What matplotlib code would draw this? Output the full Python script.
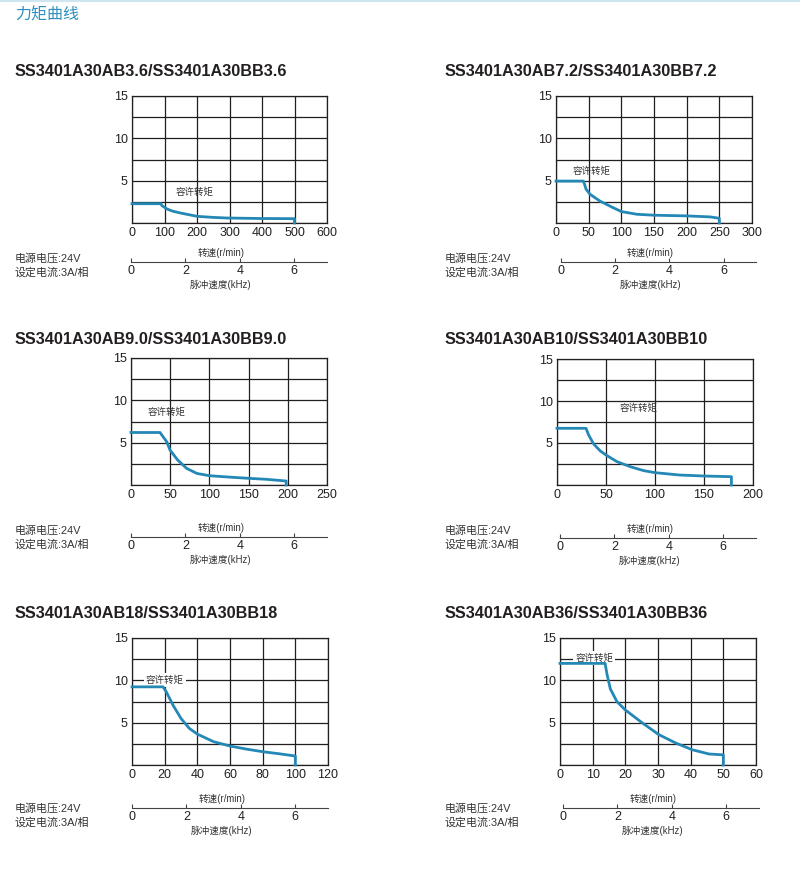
import matplotlib
matplotlib.use("Agg")
import matplotlib.pyplot as plt
import numpy as np

plt.rcParams['font.family'] = ['Liberation Sans', 'Noto Sans CJK SC', 'DejaVu Sans']

W, H = 800, 892

# curve data (speed r/min, torque)
titles = [
    "SS3401A30AB3.6/SS3401A30BB3.6",
    "SS3401A30AB7.2/SS3401A30BB7.2",
    "SS3401A30AB9.0/SS3401A30BB9.0",
    "SS3401A30AB10/SS3401A30BB10",
    "SS3401A30AB18/SS3401A30BB18",
    "SS3401A30AB36/SS3401A30BB36",
]
x_max = [600, 300, 250, 200, 120, 60]
x_step = [100, 50, 50, 50, 20, 10]

speed_1 = [0, 89, 92, 100, 108, 125, 149, 200, 250, 292, 400, 500, 500]
torque_1 = [2.28, 2.28, 2.05, 1.85, 1.65, 1.4, 1.18, 0.79, 0.66, 0.59, 0.53, 0.51, 0]

speed_2 = [0, 42, 44, 46, 52, 67, 85, 100, 124, 150, 200, 236, 250, 250]
torque_2 = [4.95, 4.95, 4.5, 4.0, 3.4, 2.6, 1.9, 1.35, 1.03, 0.92, 0.84, 0.72, 0.56, 0]

speed_3 = [0, 37, 45.6, 49.8, 59.6, 71, 83.9, 99.7, 130.7, 150, 173, 198, 198]
torque_3 = [6.2, 6.2, 5.1, 4.12, 2.94, 1.96, 1.37, 1.1, 0.9, 0.79, 0.67, 0.47, 0]

speed_4 = [0, 29.6, 32.3, 37.4, 44.2, 50, 61.2, 74.8, 88.4, 100, 124.8, 150, 178, 178]
torque_4 = [6.75, 6.75, 5.95, 4.88, 4.05, 3.57, 2.78, 2.18, 1.71, 1.47, 1.19, 1.07, 0.99, 0]

speed_5 = [0, 19, 21, 25.1, 30, 35.1, 40, 50, 60, 70, 80, 90, 100, 100]
torque_5 = [9.23, 9.23, 8.64, 7.07, 5.5, 4.32, 3.65, 2.75, 2.24, 1.88, 1.57, 1.33, 1.06, 0]

speed_6 = [0, 13.8, 14.4, 15.4, 17.4, 20, 25.1, 30.2, 35.4, 40.5, 45.6, 50, 50]
torque_6 = [12, 12, 10.7, 9.0, 7.5, 6.5, 5.0, 3.6, 2.6, 1.8, 1.3, 1.2, 0]

speeds = [speed_1, speed_2, speed_3, speed_4, speed_5, speed_6]
torques = [torque_1, torque_2, torque_3, torque_4, torque_5, torque_6]

# label "容许转矩" position (speed, torque)
label_pos = [(194, 3.66), (54, 6.1), (45.6, 8.6), (83, 9.2), (20.2, 10.05), (10.5, 12.6)]
label_box = [False, False, False, False, True, True]

khz_ticks = [0, 2, 4, 6]
khz_max = 7.2

# layout in pixels: frame (l, t, r, b), khz line (y, x0, x1), title y, info y
frames = [(132, 96, 327, 223), (556, 96, 752, 223),
          (131, 358, 327, 485), (557, 359, 753, 485),
          (132, 638, 328, 765), (560, 638, 756, 765)]
khz_lines = [(262, 131, 327), (262, 561, 756),
             (537, 131, 327), (538, 560, 756),
             (808, 132, 328), (808, 563, 759)]
title_y = [72, 72, 340, 340, 613, 613]
info_y = [258, 258, 530, 530, 808, 808]
col_x = [15, 445, 15, 445, 15, 445]

line_color = '#2488b6'
grid_color = '#231f20'
cjk = ['Noto Sans CJK SC', 'DejaVu Sans']


def rect(l, t, r, b):
    return [l / W, 1 - b / H, (r - l) / W, (b - t) / H]


fig = plt.figure(figsize=(W / 100, H / 100), dpi=100)
fig.patch.set_facecolor('white')

# header
fig.add_artist(plt.Line2D([0, 1], [1 - 1 / H, 1 - 1 / H], color='#cfe5f0', lw=1.5))
fig.text(15 / W, 1 - 15 / H, "力矩曲线", fontsize=11.5, color='#2f8fbf',
         family=cjk, va='center', ha='left')

for i in range(6):
    ax = fig.add_axes(rect(*frames[i]))
    ax.set_xlim(0, x_max[i])
    ax.set_ylim(0, 15)
    xt = np.arange(0, x_max[i] + 1, x_step[i])
    ax.set_xticks(xt)
    ax.set_xticklabels([str(int(v)) for v in xt])
    yt = [0, 2.5, 5, 7.5, 10, 12.5, 15]
    ax.set_yticks(yt)
    ax.set_yticklabels(['', '', '5', '', '10', '', '15'])
    ax.grid(True, color=grid_color, lw=0.9)
    ax.set_axisbelow(True)
    ax.tick_params(length=0, labelsize=9, colors='#231f20', pad=3)
    for s in ax.spines.values():
        s.set_color(grid_color)
        s.set_linewidth(0.9)
    ax.plot(speeds[i], torques[i], color=line_color, lw=2.0,
            solid_joinstyle='round', clip_on=False, zorder=5)
    lx, ly = label_pos[i]
    kw = {}
    if label_box[i]:
        kw['bbox'] = dict(facecolor='white', edgecolor='none', pad=1.5)
    ax.text(lx, ly, "容许转矩", fontsize=6.8, color='#333333', ha='center', va='center',
            family=cjk, zorder=4, **kw)

    # pulse frequency axis
    ky, kx0, kx1 = khz_lines[i]
    kax = fig.add_axes(rect(kx0, ky - 2, kx1, ky))
    kax.set_xlim(0, khz_max)
    kax.set_ylim(0, 1)
    for s in ['top', 'left', 'right']:
        kax.spines[s].set_visible(False)
    kax.spines['bottom'].set_color('#444444')
    kax.spines['bottom'].set_linewidth(0.8)
    kax.set_yticks([])
    kax.set_xticks(khz_ticks)
    kax.set_xticklabels([str(v) for v in khz_ticks])
    kax.tick_params(axis='x', direction='in', length=3, width=0.8, color='#444444',
                    labelsize=9, labelcolor='#231f20', pad=2.5)
    kax.patch.set_alpha(0)
    cx = (kx0 + 3.3 * (kx1 - kx0) / khz_max) / W
    fig.text(cx, 1 - (ky - 9) / H, "转速(r/min)",
             fontsize=6.9, ha='center', va='center', color='#333333')
    fig.text(cx, 1 - (ky + 23) / H, "脉冲速度(kHz)",
             fontsize=6.9, ha='center', va='center', color='#333333')

    # title and info
    fig.text(col_x[i] / W, 1 - title_y[i] / H, titles[i], fontsize=11.7,
             fontweight='bold', ha='left', va='center', color='#231f20')
    fig.text(col_x[i] / W, 1 - info_y[i] / H, "电源电压:24V", fontsize=7.9,
             ha='left', va='center', color='#333333')
    fig.text(col_x[i] / W, 1 - (info_y[i] + 14) / H, "设定电流:3A/相", fontsize=7.9,
             ha='left', va='center', color='#333333')

fig.savefig("out.png", dpi=100)
